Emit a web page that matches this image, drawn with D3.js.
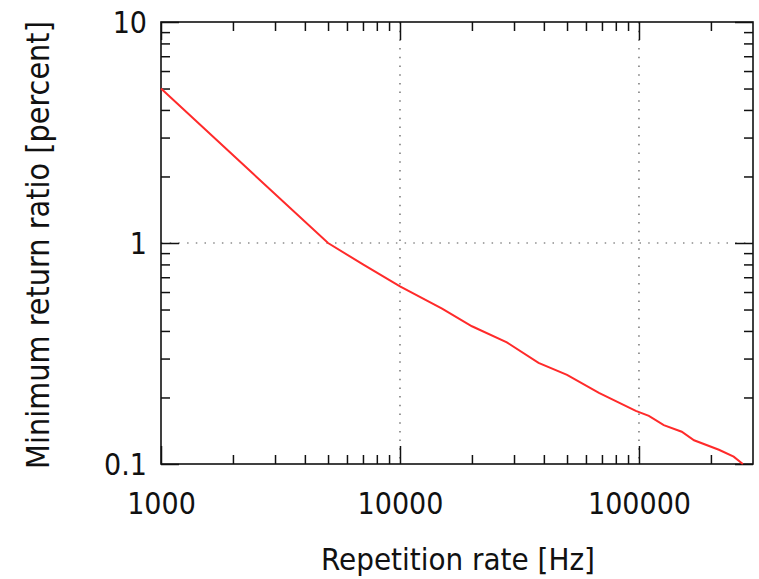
<!DOCTYPE html>
<html><head><meta charset="utf-8">
<script src="https://cdn.jsdelivr.net/npm/d3@7"></script>
<style>
body{margin:0;background:#fff;}
svg text{font-family:"DejaVu Sans Condensed","DejaVu Sans",sans-serif;font-stretch:condensed;fill:#111;}
</style></head><body>
<svg id="chart" width="759" height="579"></svg>
<script>
const rateHz = [1000, 5000, 7000, 10000, 15000, 20000, 28000, 38000, 50000, 68000, 97000, 110000, 127000, 151000, 170000, 216000, 249000, 272000];
const ratioPct = [5, 1.0, 0.80, 0.637, 0.505, 0.42, 0.355, 0.287, 0.253, 0.21, 0.174, 0.165, 0.15, 0.14, 0.128, 0.116, 0.108, 0.1];
const xMajor = [1000, 10000, 100000];
const xMajorLabels = ["1000", "10000", "100000"];
const yMajor = [0.1, 1, 10];
const yMajorLabels = ["0.1", "1", "10"];
const xTitle = "Repetition rate [Hz]";
const yTitle = "Minimum return ratio [percent]";

const W = 759, H = 579;
const m = {left: 161, right: 6, top: 22, bottom: 115};
const iw = W - m.left - m.right, ih = H - m.top - m.bottom;
const svg = d3.select("#chart");
const g = svg.append("g").attr("transform", `translate(${m.left},${m.top})`);

const x = d3.scaleLog().domain([1000, 300000]).range([0, iw]);
const y = d3.scaleLog().domain([0.1, 10]).range([ih, 0]);

function minors(dom){
  const out = [];
  for (let p = Math.floor(Math.log10(dom[0])); p <= Math.ceil(Math.log10(dom[1])); p++){
    for (let k = 2; k <= 9; k++){ const v = k * Math.pow(10, p); if (v > dom[0] && v < dom[1]) out.push(v); }
  }
  return out;
}
const xMinor = minors(x.domain()), yMinor = minors(y.domain());

// grid
const grid = g.append("g").attr("stroke", "#555").attr("stroke-width", 1.2).attr("stroke-dasharray", "1.5,7.2");
xMajor.filter(v => v > 1000 && v < 300000).forEach(v => grid.append("line").attr("x1", x(v)).attr("x2", x(v)).attr("y1", 0).attr("y2", ih));
yMajor.filter(v => v > 0.1 && v < 10).forEach(v => grid.append("line").attr("x1", 0).attr("x2", iw).attr("y1", y(v)).attr("y2", y(v)));

// axes with inward ticks
function styleAxis(sel){ sel.select(".domain").remove(); sel.selectAll("line").attr("stroke", "#111").attr("stroke-width", 1.5); }
const fmtX = v => xMajorLabels[xMajor.indexOf(v)];
const fmtY = v => yMajorLabels[yMajor.indexOf(v)];

const bx = g.append("g").attr("transform", `translate(0,${ih})`).call(d3.axisBottom(x).tickValues(xMajor).tickSize(-18).tickFormat(fmtX));
styleAxis(bx);
bx.selectAll("text").attr("font-size", 30).attr("dy", "0.71em").attr("y", 29);
const bxm = g.append("g").attr("transform", `translate(0,${ih})`).call(d3.axisBottom(x).tickValues(xMinor).tickSize(-9).tickFormat(""));
styleAxis(bxm);
const tx = g.append("g").call(d3.axisTop(x).tickValues(xMajor).tickSize(-18).tickFormat(""));
styleAxis(tx);
const txm = g.append("g").call(d3.axisTop(x).tickValues(xMinor).tickSize(-9).tickFormat(""));
styleAxis(txm);

const ly = g.append("g").call(d3.axisLeft(y).tickValues(yMajor).tickSize(-18).tickFormat(fmtY));
styleAxis(ly);
ly.selectAll("text").attr("font-size", 30).attr("x", -14).attr("dy", "0.35em");
const lym = g.append("g").call(d3.axisLeft(y).tickValues(yMinor).tickSize(-9).tickFormat(""));
styleAxis(lym);
const ry = g.append("g").attr("transform", `translate(${iw},0)`).call(d3.axisRight(y).tickValues(yMajor).tickSize(-18).tickFormat(""));
styleAxis(ry);
const rym = g.append("g").attr("transform", `translate(${iw},0)`).call(d3.axisRight(y).tickValues(yMinor).tickSize(-9).tickFormat(""));
styleAxis(rym);

// frame
g.append("rect").attr("width", iw).attr("height", ih).attr("fill", "none").attr("stroke", "#111").attr("stroke-width", 1.6);

// data line
const data = rateHz.map((r, i) => ({r, v: ratioPct[i]}));
g.append("path").datum(data).attr("fill", "none").attr("stroke", "#ff2a2a").attr("stroke-width", 2)
  .attr("d", d3.line().x(d => x(d.r)).y(d => y(d.v)));

// titles
svg.append("text").attr("x", 458).attr("y", 570).attr("text-anchor", "middle").attr("font-size", 31).text(xTitle);
svg.append("text").attr("transform", `translate(49,${m.top + ih/2 + 2}) rotate(-90)`).attr("text-anchor", "middle").attr("font-size", 32).text(yTitle);
</script>
</body></html>
